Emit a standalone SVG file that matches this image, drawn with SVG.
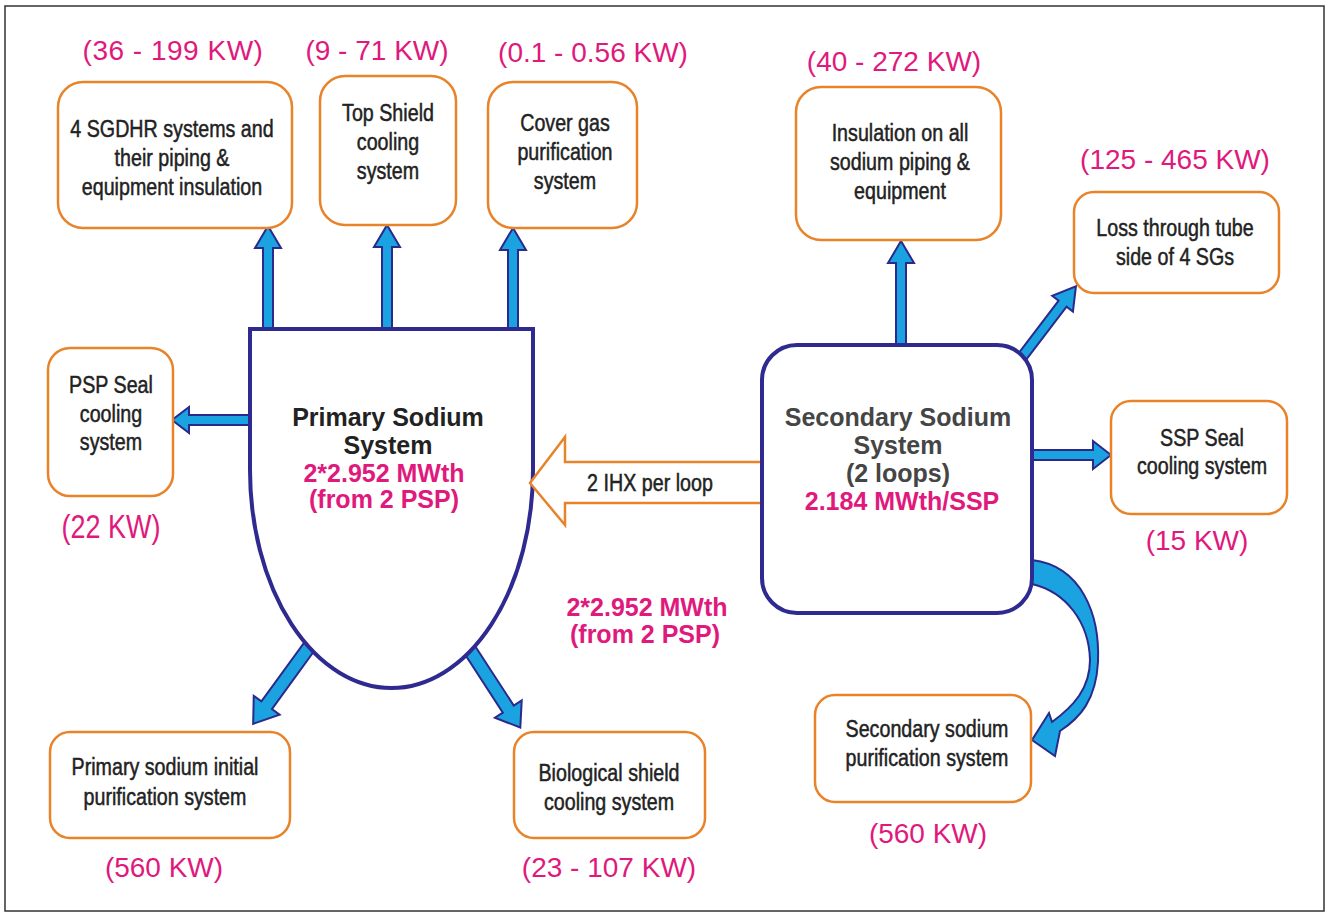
<svg xmlns="http://www.w3.org/2000/svg" width="1330" height="916" viewBox="0 0 1330 916">
<style>
.box{fill:#fff;stroke:#e8832a;stroke-width:2.5}
.t{font-family:"Liberation Sans",Arial,sans-serif;font-size:24px;fill:#222;stroke:#222;stroke-width:0.5;text-anchor:middle}
.p{font-family:"Liberation Sans",Arial,sans-serif;font-size:28px;fill:#e0197d;text-anchor:middle}
.b{font-family:"Liberation Sans",Arial,sans-serif;font-size:25px;font-weight:bold;text-anchor:middle}
.arr{fill:#1aa3e0;stroke:#2b2a8c;stroke-width:2;stroke-linejoin:miter}
.vessel{fill:#fff;stroke:#2e2a8f;stroke-width:4}
</style>
<rect x="5" y="6" width="1319" height="905" fill="#fff" stroke="#333" stroke-width="1.5"/>

<g id="connectors">
  <polygon class="arr" points="263,331 263,248 255,248 268,226 281,248 273,248 273,331"/>
  <polygon class="arr" points="382,331 382,247 374,247 387,225 400,247 392,247 392,331"/>
  <polygon class="arr" points="508,331 508,250 500,250 513,228 526,250 518,250 518,331"/>
  <polygon class="arr" points="252,415 189,415 189,407 172,420 189,433 189,425 252,425"/>
  <polygon class="arr" points="896,347 896,263 888,263 901,241 914,263 906,263 906,347"/>
  <g transform="translate(1022,357) rotate(-52.7)">
    <polygon class="arr" points="-4,-5 67,-5 67,-13 89,0 67,13 67,5 -4,5"/>
  </g>
  <polygon class="arr" points="1030,450 1093,450 1093,441 1111,455 1093,469 1093,460 1030,460"/>
  <g transform="translate(309,647) rotate(126)">
    <polygon class="arr" points="-6,-6.5 72,-6.5 72,-16 95,0 72,16 72,6.5 -6,6.5"/>
  </g>
  <g transform="translate(468,647) rotate(57)">
    <polygon class="arr" points="-6,-6.5 74,-6.5 74,-16 96,0 74,16 74,6.5 -6,6.5"/>
  </g>
  <path class="arr" d="M1032,560 C1082,566 1100,615 1098,662 C1096,700 1080,718 1060,731 L1055,756 L1032,740 L1049,713 L1052,722 C1074,706 1090,688 1090,660 C1089,622 1066,592 1032,584 Z"/>
</g>

<g id="primary">
  <path class="vessel" d="M250,329 L533,329 L533,470 A141.5,218 0 0 1 250,470 Z"/>
  <text class="b" x="388" y="426" fill="#222">Primary Sodium</text>
  <text class="b" x="388" y="454" fill="#222">System</text>
  <text class="b" x="384" y="482" fill="#e0197d">2*2.952 MWth</text>
  <text class="b" x="384" y="508" fill="#e0197d">(from 2 PSP)</text>
</g>

<g id="ihx">
  <polygon points="762,462 565,462 565,437 530,483 565,525 565,503 762,503" fill="#fff" stroke="#e8832a" stroke-width="2.5"/>
  <text class="t" transform="matrix(0.82,0,0,1,650,0)" x="0" y="491">2 IHX per loop</text>
</g>

<g id="secondary">
  <rect x="762" y="345" width="270" height="268" rx="35" class="vessel"/>
  <text class="b" x="898" y="426" fill="#454545">Secondary Sodium</text>
  <text class="b" x="898" y="454" fill="#454545">System</text>
  <text class="b" x="898" y="482" fill="#454545">(2 loops)</text>
  <text class="b" x="902" y="510" fill="#e0197d">2.184 MWth/SSP</text>
</g>

<g id="sgdhr">
  <rect class="box" x="58" y="82" width="234" height="146" rx="25"/>
  <text class="t" transform="matrix(0.82,0,0,1,172,0)" x="0" y="137">4 SGDHR systems and</text>
  <text class="t" transform="matrix(0.82,0,0,1,172,0)" x="0" y="166">their piping &amp;</text>
  <text class="t" transform="matrix(0.82,0,0,1,172,0)" x="0" y="195">equipment insulation</text>
  <text class="p" x="173" y="60" letter-spacing="0.5">(36 - 199 KW)</text>
</g>

<g id="topshield">
  <rect class="box" x="320" y="76" width="136" height="149" rx="25"/>
  <text class="t" transform="matrix(0.82,0,0,1,388,0)" x="0" y="121">Top Shield</text>
  <text class="t" transform="matrix(0.82,0,0,1,388,0)" x="0" y="150">cooling</text>
  <text class="t" transform="matrix(0.82,0,0,1,388,0)" x="0" y="179">system</text>
  <text class="p" x="377" y="60">(9 - 71 KW)</text>
</g>

<g id="covergas">
  <rect class="box" x="488" y="82" width="149" height="146" rx="25"/>
  <text class="t" transform="matrix(0.82,0,0,1,565,0)" x="0" y="131">Cover gas</text>
  <text class="t" transform="matrix(0.82,0,0,1,565,0)" x="0" y="160">purification</text>
  <text class="t" transform="matrix(0.82,0,0,1,565,0)" x="0" y="189">system</text>
  <text class="p" x="593" y="62">(0.1 - 0.56 KW)</text>
</g>

<g id="insulation">
  <rect class="box" x="796" y="87" width="205" height="153" rx="25"/>
  <text class="t" transform="matrix(0.82,0,0,1,900,0)" x="0" y="141">Insulation on all</text>
  <text class="t" transform="matrix(0.82,0,0,1,900,0)" x="0" y="170">sodium piping &amp;</text>
  <text class="t" transform="matrix(0.82,0,0,1,900,0)" x="0" y="199">equipment</text>
  <text class="p" x="894" y="71">(40 - 272 KW)</text>
</g>

<g id="loss">
  <rect class="box" x="1074" y="192" width="205" height="101" rx="20"/>
  <text class="t" transform="matrix(0.82,0,0,1,1175,0)" x="0" y="236">Loss through tube</text>
  <text class="t" transform="matrix(0.82,0,0,1,1175,0)" x="0" y="265">side of 4 SGs</text>
  <text class="p" x="1175" y="169">(125 - 465 KW)</text>
</g>

<g id="pspseal">
  <rect class="box" x="48" y="348" width="125" height="148" rx="22"/>
  <text class="t" transform="matrix(0.82,0,0,1,111,0)" x="0" y="393">PSP Seal</text>
  <text class="t" transform="matrix(0.82,0,0,1,111,0)" x="0" y="422">cooling</text>
  <text class="t" transform="matrix(0.82,0,0,1,111,0)" x="0" y="450">system</text>
  <text class="t" transform="matrix(0.82,0,0,1,111,0)" x="0" y="538" style="font-size:33px;fill:#e0197d;stroke:none">(22 KW)</text>
</g>

<g id="sspseal">
  <rect class="box" x="1111" y="401" width="176" height="113" rx="20"/>
  <text class="t" transform="matrix(0.82,0,0,1,1202,0)" x="0" y="446">SSP Seal</text>
  <text class="t" transform="matrix(0.82,0,0,1,1202,0)" x="0" y="474">cooling system</text>
  <text class="p" x="1197" y="550">(15 KW)</text>
</g>

<g id="secpurif">
  <rect class="box" x="815" y="695" width="216" height="107" rx="20"/>
  <text class="t" transform="matrix(0.82,0,0,1,927,0)" x="0" y="737">Secondary sodium</text>
  <text class="t" transform="matrix(0.82,0,0,1,927,0)" x="0" y="766">purification system</text>
  <text class="p" x="928" y="843">(560 KW)</text>
</g>

<g id="priminit">
  <rect class="box" x="50" y="732" width="240" height="106" rx="20"/>
  <text class="t" transform="matrix(0.82,0,0,1,165,0)" x="0" y="775">Primary sodium initial</text>
  <text class="t" transform="matrix(0.82,0,0,1,165,0)" x="0" y="805">purification system</text>
  <text class="p" x="164" y="877">(560 KW)</text>
</g>

<g id="bioshield">
  <rect class="box" x="514" y="732" width="191" height="106" rx="20"/>
  <text class="t" transform="matrix(0.82,0,0,1,609,0)" x="0" y="781">Biological shield</text>
  <text class="t" transform="matrix(0.82,0,0,1,609,0)" x="0" y="810">cooling system</text>
  <text class="p" x="609" y="877">(23 - 107 KW)</text>
</g>

<g id="ihxpower">
  <text class="b" x="647" y="616" fill="#e0197d">2*2.952 MWth</text>
  <text class="b" x="645" y="643" fill="#e0197d">(from 2 PSP)</text>
</g>
</svg>
